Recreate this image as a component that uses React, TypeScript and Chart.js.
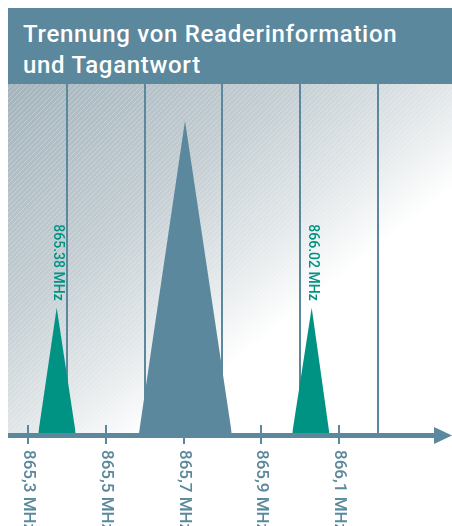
import React, { useEffect, useRef } from 'react';
import { Chart, registerables } from 'chart.js';

Chart.register(...registerables);

// ---- text ----
const titleLines = ['Trennung von Readerinformation', 'und Tagantwort'];

// ---- axis ticks (MHz) ----
const tickValues = [865.3, 865.5, 865.7, 865.9, 866.1];
const tickUnit = 'MHz';

// ---- series: tag answer 1 (teal), reader signal (blue), tag answer 2 (teal) ----
const tag1X = [865.3265, 865.3738, 865.4226];
const tag1Y = [0, 35.9, 0];
const readerX = [865.5854, 865.7036, 865.8237];
const readerY = [0, 89.5, 0];
const tag2X = [865.9794, 866.0293, 866.0746];
const tag2Y = [0, 35.9, 0];

const peakLabels = ['865.38 MHz', '', '866.02 MHz'];

const X_MIN = 865.2486;
const X_MAX = 866.39;

const BLUE = '#5B889C';
const TEAL = '#009384';
const FONT = 'Roboto, "Liberation Sans", Arial, sans-serif';

const toPoints = (xs: number[], ys: number[]) => xs.map((x, i) => ({ x, y: ys[i] }));

const decorPlugin = {
  id: 'decor',
  beforeDraw(chart: any) {
    const { ctx, chartArea: a } = chart;
    const w = a.right - a.left;
    const h = a.bottom - a.top;
    ctx.save();
    const g = ctx.createLinearGradient(a.left, a.top, a.left + 223, a.top + 281);
    g.addColorStop(0, '#A4B4BC');
    g.addColorStop(0.5, '#C4CED3');
    g.addColorStop(0.78, '#E2E7E9');
    g.addColorStop(1, '#FFFFFF');
    ctx.fillStyle = g;
    ctx.fillRect(a.left, a.top, w, h);
    ctx.beginPath();
    ctx.rect(a.left, a.top, w, h);
    ctx.clip();
    ctx.beginPath();
    ctx.strokeStyle = 'rgba(255,255,255,0.25)';
    ctx.lineWidth = 1;
    for (let x = a.left - h; x < a.right + 5; x += 5) {
      ctx.moveTo(x, a.bottom);
      ctx.lineTo(x + h, a.top);
    }
    ctx.stroke();
    ctx.restore();
  },
  afterDatasetsDraw(chart: any) {
    const { ctx } = chart;
    ctx.save();
    ctx.font = '500 14px ' + FONT;
    ctx.fillStyle = TEAL;
    ctx.textAlign = 'right';
    ctx.textBaseline = 'middle';
    peakLabels.forEach((label, i) => {
      if (!label) return;
      const meta = chart.getDatasetMeta(i);
      let top: any = null;
      meta.data.forEach((el: any) => {
        if (!top || el.y < top.y) top = el;
      });
      if (!top) return;
      ctx.save();
      ctx.translate(top.x + 1, top.y - 7);
      ctx.rotate(Math.PI / 2);
      ctx.fillText(label, 0, 0);
      ctx.restore();
    });
    ctx.restore();
  },
  afterDraw(chart: any) {
    const { ctx, chartArea: a } = chart;
    const scale = chart.scales.x;
    const cw = chart.width;
    const axisY = a.bottom + 2.5;
    ctx.save();
    ctx.fillStyle = BLUE;
    // axis line
    ctx.fillRect(a.left, a.bottom, cw - 18 - a.left, 5);
    // arrow head
    ctx.beginPath();
    ctx.moveTo(cw - 18, axisY - 8.5);
    ctx.lineTo(cw, axisY);
    ctx.lineTo(cw - 18, axisY + 8.5);
    ctx.closePath();
    ctx.fill();
    // tick marks + labels
    ctx.font = '500 17px ' + FONT;
    ctx.textAlign = 'left';
    ctx.textBaseline = 'middle';
    scale.ticks.forEach((t: any) => {
      const x = Math.round(scale.getPixelForValue(t.value));
      ctx.fillRect(x - 1, a.bottom - 8, 2, 19);
      ctx.save();
      ctx.translate(x, a.bottom + 17);
      ctx.rotate(Math.PI / 2);
      ctx.fillText(t.label, 0, 0);
      ctx.restore();
    });
    ctx.restore();
  },
};

export default function App() {
  const ref = useRef<HTMLCanvasElement | null>(null);

  useEffect(() => {
    if (!ref.current) return;
    const chart = new Chart(ref.current, {
      type: 'line',
      data: {
        datasets: [
          { label: 'Tag 1', data: toPoints(tag1X, tag1Y), backgroundColor: TEAL, borderWidth: 0, pointRadius: 0, fill: 'origin', tension: 0 },
          { label: 'Reader', data: toPoints(readerX, readerY), backgroundColor: BLUE, borderWidth: 0, pointRadius: 0, fill: 'origin', tension: 0 },
          { label: 'Tag 2', data: toPoints(tag2X, tag2Y), backgroundColor: TEAL, borderWidth: 0, pointRadius: 0, fill: 'origin', tension: 0 },
        ],
      },
      options: {
        responsive: false,
        animation: false,
        events: [],
        layout: { padding: 0 },
        plugins: { legend: { display: false }, tooltip: { enabled: false }, title: { display: false } },
        scales: {
          x: {
            type: 'linear',
            min: X_MIN,
            max: X_MAX,
            afterBuildTicks: (s: any) => {
              s.ticks = tickValues.map((v) => ({ value: v }));
            },
            afterFit: (s: any) => {
              s.height = 93;
            },
            ticks: {
              display: false,
              callback: (v: any) => String(v).replace('.', ',') + ' ' + tickUnit,
            },
            grid: { offset: true, color: BLUE, lineWidth: 2, drawTicks: false },
            border: { display: false },
          },
          y: { display: false, min: 0, max: 100 },
        },
      },
      plugins: [decorPlugin],
    } as any);
    return () => chart.destroy();
  }, []);

  return (
    <>
      <div
        style={{
          position: 'fixed',
          left: 8,
          top: 8,
          width: 444,
          height: 76,
          boxSizing: 'border-box',
          background: BLUE,
          color: '#FFFFFF',
          fontFamily: FONT,
          fontWeight: 500,
          fontSize: 24,
          lineHeight: '31px',
          letterSpacing: '0.7px',
          paddingLeft: 15,
          paddingTop: 11,
          whiteSpace: 'nowrap',
        }}
      >
        {titleLines.map((l) => (
          <div key={l}>{l}</div>
        ))}
      </div>
      <canvas ref={ref} width={444} height={442} style={{ position: 'fixed', left: 8, top: 84 }} />
    </>
  );
}
